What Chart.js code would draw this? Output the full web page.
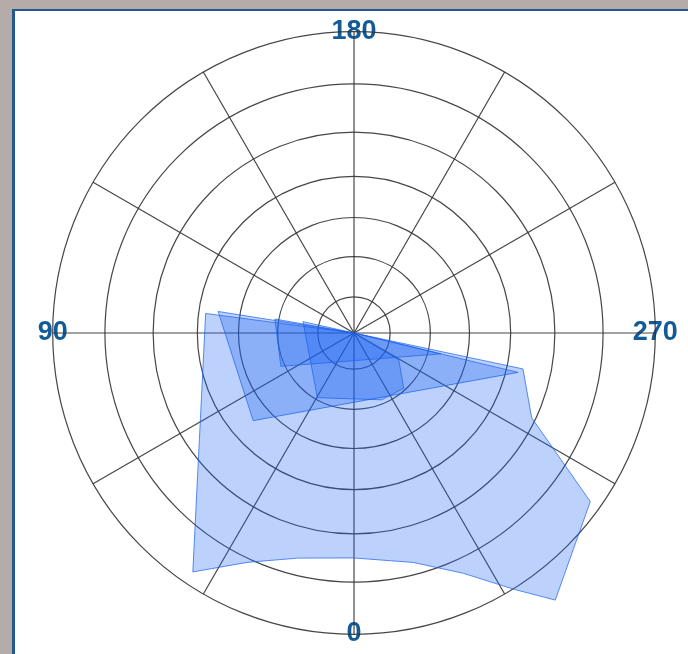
<!DOCTYPE html>
<html><head><meta charset="utf-8">
<script src="https://cdn.jsdelivr.net/npm/chart.js@4/dist/chart.umd.min.js"></script>
<style>
html,body{margin:0;padding:0;width:688px;height:654px;overflow:hidden;background:#b5aca9;}
#panel{position:absolute;left:12px;top:9px;width:700px;height:700px;border:2px solid #23578f;border-left-width:3px;background:#fff;}
#c{position:absolute;left:0;top:0;}
</style></head><body>
<div id="panel"></div>
<canvas id="c" width="708" height="654"></canvas>
<script>
// angular axis: degrees, 0 at bottom, increasing clockwise
const tickLabels = ['0', '90', '180', '270'];
const angleStep = 0.5;
const spokeEvery = 30;
// radial grid circles (radial units)
const gridValues = [0, 36, 76, 115, 156, 200, 248, 300];
const radialMax = 300;

// series polygons: vertex angles (deg) and radii
const seriesA_angle = [0, 14, 25, 34, 97.5, 180, 282, 295.5, 305.5, 323, 328, 335.5, 345.5];
const seriesA_r     = [224, 231, 252, 287, 149, 0, 172, 196, 289, 333, 301, 263, 236];

const seriesB_angle = [49, 99, 180, 283.5];
const seriesB_r     = [133, 137, 0, 168];

const seriesC_angle = [65.5, 100, 180, 283.5];
const seriesC_r     = [80, 80, 0, 89];

const seriesD_angle = [29.5, 102.5, 180, 301, 318, 337.5];
const seriesD_r     = [74, 52, 0, 52, 74, 72];

const N = Math.round(360 / angleStep);
const labels = [];
for (let i = 0; i < N; i++) labels.push(i * angleStep);

function toRadar(angles, radii) {
  const arr = new Array(N).fill(null);
  angles.forEach((a, k) => { arr[Math.round(a / angleStep) % N] = radii[k]; });
  return arr;
}
const fillCol = 'rgba(25,95,240,0.29)';
const lineCol = 'rgba(25,95,240,0.7)';
function ds(name, a, r) {
  return {label: name, data: toRadar(a, r), fill: true, spanGaps: true,
    backgroundColor: fillCol, borderColor: lineCol, borderWidth: 1,
    pointRadius: 0, pointHoverRadius: 0, tension: 0};
}
const labelPad = {'0': -16.7, '180': -15.7, '90': -15, '270': -22.5};
const gridColor = 'rgba(50,50,50,0.9)';

new Chart(document.getElementById('c'), {
  type: 'radar',
  data: {
    labels: labels,
    datasets: [
      ds('A', seriesA_angle, seriesA_r),
      ds('B', seriesB_angle, seriesB_r),
      ds('C', seriesC_angle, seriesC_r),
      ds('D', seriesD_angle, seriesD_r)
    ]
  },
  options: {
    responsive: false,
    animation: false,
    devicePixelRatio: 1,
    layout: {padding: {top: 15, bottom: 3, left: 0, right: 0}},
    plugins: {legend: {display: false}, tooltip: {enabled: false}},
    events: [],
    scales: {
      r: {
        z: 1,
        min: 0, max: radialMax,
        startAngle: 180,
        afterBuildTicks: (axis) => { axis.ticks = gridValues.map(v => ({value: v})); },
        ticks: {display: false},
        grid: {circular: true, color: gridColor, lineWidth: 1.2},
        angleLines: {
          display: true, color: gridColor,
          lineWidth: (ctx) => (ctx.index * angleStep) % spokeEvery === 0 ? 1.2 : 0
        },
        pointLabels: {
          display: true,
          callback: (label) => tickLabels.includes(String(label)) ? String(label) : '',
          padding: (ctx) => (ctx.label in labelPad) ? labelPad[ctx.label] : -90,
          color: '#135a98',
          font: {family: "'Liberation Sans', Arial, sans-serif", size: 27, weight: 'bold'}
        }
      }
    }
  }
});
</script>
</body></html>
